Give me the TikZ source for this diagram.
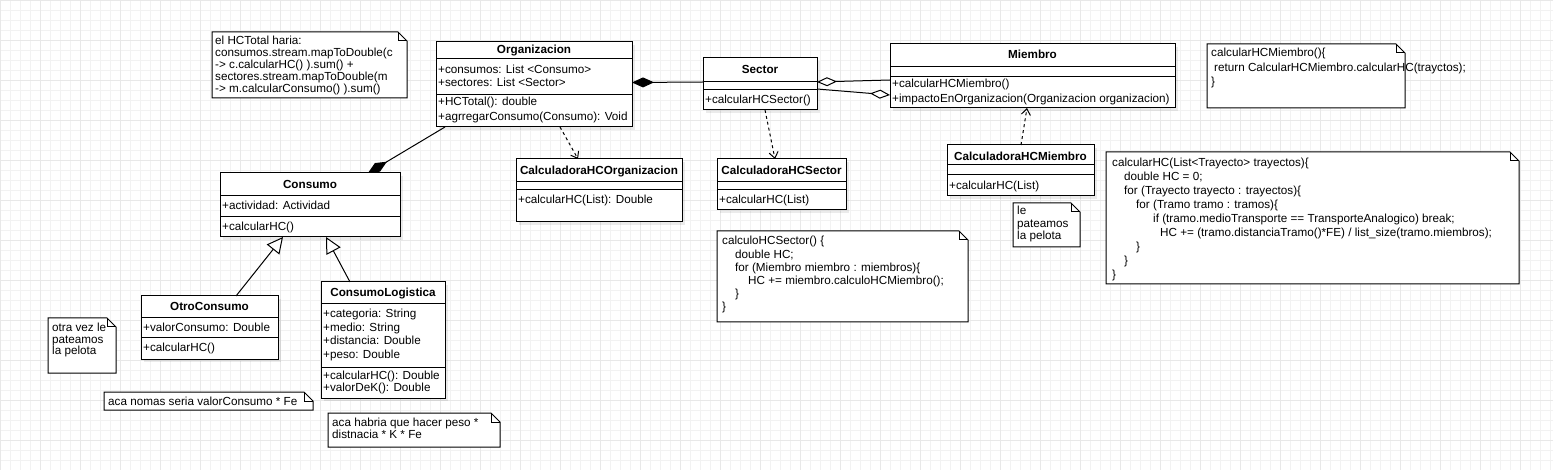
\documentclass[tikz,border=0pt]{standalone}
\usepackage{fontspec}
\setmainfont{Liberation Sans}
\usetikzlibrary{arrows.meta,shadows}

\newcommand{\umltext}{\fontsize{11.7}{13}\selectfont}

% note with folded corner: [fold] x1 y1 x2 y2
\newcommand{\umlnote}[5][9]{%
  \filldraw[notebox] (#2,#3) -- (#4-#1,#3) -- (#4,#3+#1) -- (#4,#5) -- (#2,#5) -- cycle;
  \draw[notebox, fill=none] (#4-#1,#3) -- (#4-#1,#3+#1) -- (#4,#3+#1);
}

\tikzset{
  gridminor/.style={draw=black!5, line width=0.6pt, step=10pt},
  gridmajor/.style={draw=black!9, line width=0.6pt, step=40pt},
  classbox/.style={draw=black, fill=white, line width=1pt, anchor=north west,
    inner sep=0pt, outer sep=0pt,
    drop shadow={shadow xshift=3pt, shadow yshift=-3pt, fill=black, opacity=0.08}},
  classname/.style={font=\umltext\bfseries, anchor=base, inner sep=0pt},
  member/.style={font=\umltext, anchor=base west, inner sep=0pt},
  notetext/.style={member},
  notebox/.style={draw=black, fill=white, line width=1pt},
  sepline/.style={line width=1pt},
  composite/.style={line width=1pt, {Diamond[length=22pt,width=10pt]}-},
  aggrstart/.style={line width=1pt, {Diamond[fill=white,length=20pt,width=9pt]}-},
  aggrend/.style={line width=1pt, -{Diamond[fill=white,length=20pt,width=9pt]}},
  depend/.style={line width=1pt, dash pattern=on 3pt off 3pt,
    -{Straight Barb[length=6pt,width=9pt]}},
  inherit/.style={line width=1pt, -{Triangle[fill=white,length=16pt,width=16pt]}},
}

\begin{document}
\begin{tikzpicture}[x=1pt, y=-1pt]
  % fondo y grilla
  \useasboundingbox (0,0) rectangle (1553,470);
  \fill[white] (0,0) rectangle (1553,470);
  \draw[gridminor] (0,0) grid (1553,470);
  \draw[gridmajor] (0,0) grid (1553,470);

  % Organizacion
  \node[classbox, minimum width=196pt, minimum height=85pt] (org) at (436,42) {};
  \node[classname] (orgT) at (534,54) {Organizacion};
  \draw[sepline] (436,59) -- (632,59);
  \draw[sepline] (436,95) -- (632,95);
  \node[member] (orgA1) at (438,73.5) {+consumos: List <Consumo>};
  \node[member] (orgA2) at (438,86.5) {+sectores: List <Sector>};
  \node[member] (orgM1) at (438,106) {+HCTotal(): double};
  \node[member] (orgM2) at (438,120.5) {+agrregarConsumo(Consumo): Void};

  % Sector
  \node[classbox, minimum width=114pt, minimum height=52pt] (sec) at (703,58) {};
  \node[classname] (secT) at (760,74) {Sector};
  \draw[sepline] (703,82) -- (817,82);
  \draw[sepline] (703,90) -- (817,90);
  \node[member] (secM1) at (705,104) {+calcularHCSector()};

  % Miembro
  \node[classbox, minimum width=285pt, minimum height=64pt] (mie) at (890,44) {};
  \node[classname] (mieT) at (1032.5,59) {Miembro};
  \draw[sepline] (890,67) -- (1175,67);
  \draw[sepline] (890,77) -- (1175,77);
  \node[member] (mieM1) at (892,88) {+calcularHCMiembro()};
  \node[member] (mieM2) at (892,103) {+impactoEnOrganizacion(Organizacion organizacion)};

  % Consumo
  \node[classbox, minimum width=180pt, minimum height=64pt] (con) at (220,173) {};
  \node[classname] (conT) at (310,189) {Consumo};
  \draw[sepline] (220,196) -- (400,196);
  \draw[sepline] (220,217) -- (400,217);
  \node[member] (conA1) at (222,210) {+actividad: Actividad};
  \node[member] (conM1) at (222,231) {+calcularHC()};

  % Calculadoras
  \node[classbox, minimum width=166pt, minimum height=63pt] (cho) at (516,159) {};
  \node[classname] (choT) at (599,175) {CalculadoraHCOrganizacion};
  \draw[sepline] (516,182) -- (682,182);
  \draw[sepline] (516,190) -- (682,190);
  \node[member] (choM1) at (518,204) {+calcularHC(List): Double};

  \node[classbox, minimum width=129pt, minimum height=51pt] (chs) at (717,159) {};
  \node[classname] (chsT) at (781.5,175) {CalculadoraHCSector};
  \draw[sepline] (717,182) -- (846,182);
  \draw[sepline] (717,190) -- (846,190);
  \node[member] (chsM1) at (719,204) {+calcularHC(List)};

  \node[classbox, minimum width=147pt, minimum height=51pt] (chm) at (947,145) {};
  \node[classname] (chmT) at (1020.5,161) {CalculadoraHCMiembro};
  \draw[sepline] (947,165) -- (1094,165);
  \draw[sepline] (947,175) -- (1094,175);
  \node[member] (chmM1) at (949,190) {+calcularHC(List)};

  % OtroConsumo
  \node[classbox, minimum width=137pt, minimum height=63pt] (otr) at (141,296) {};
  \node[classname] (otrT) at (209.5,311) {OtroConsumo};
  \draw[sepline] (141,318) -- (278,318);
  \draw[sepline] (141,338) -- (278,338);
  \node[member] (otrA1) at (143,332) {+valorConsumo: Double};
  \node[member] (otrM1) at (143,352) {+calcularHC()};

  % ConsumoLogistica
  \node[classbox, minimum width=124pt, minimum height=116pt] (log) at (321,282) {};
  \node[classname] (logT) at (383,297) {ConsumoLogistica};
  \draw[sepline] (321,304) -- (445,304);
  \draw[sepline] (321,367) -- (445,367);
  \node[member] (logA1) at (323,317.5) {+categoria: String};
  \node[member] (logA2) at (323,331) {+medio: String};
  \node[member] (logA3) at (323,344.5) {+distancia: Double};
  \node[member] (logA4) at (323,358) {+peso: Double};
  \node[member] (logM1) at (323,379) {+calcularHC(): Double};
  \node[member] (logM2) at (323,391) {+valorDeK(): Double};

  % Notas
  \umlnote{212}{32}{407}{98}
  \foreach \txt [count=\i from 0] in {{el HCTotal haria:}, {consumos.stream.mapToDouble(c},
      {-> c.calcularHC() ).sum() +}, {sectores.stream.mapToDouble(m}, {-> m.calcularConsumo() ).sum()}}
    \node[notetext] (hcNote\i) at (215,45+12*\i) {\txt};

  \umlnote{1207}{44}{1405}{108}
  \foreach \dx/\txt [count=\i from 0] in {0/{calcularHCMiembro()\{},
      3/{return CalcularHCMiembro.calcularHC(trayctos);}, 0/{\}}}
    \node[notetext] (mieNote\i) at (1211+\dx,57+14.5*\i) {\txt};

  \umlnote{1106}{152}{1519}{284}
  \foreach \dx/\txt [count=\i from 0] in {0/{calcularHC(List<Trayecto> trayectos)\{},
      12/{double HC = 0;}, 12/{for (Trayecto trayecto : trayectos)\{},
      24/{for (Tramo tramo : tramos)\{},
      41/{if (tramo.medioTransporte == TransporteAnalogico) break;},
      48/{HC += (tramo.distanciaTramo()*FE) / list\_size(tramo.miembros);},
      24/{\}}, 12/{\}}, 0/{\}}}
    \node[notetext] (hcCode\i) at (1112+\dx,167+14*\i) {\txt};

  \umlnote{717}{231}{968}{322}
  \foreach \dx/\txt [count=\i from 0] in {0/{calculoHCSector() \{}, 13/{double HC;},
      13/{for (Miembro miembro : miembros)\{}, 26/{HC += miembro.calculoHCMiembro();},
      13/{\}}, 0/{\}}}
    \node[notetext] (secCode\i) at (722+\dx,245+13.2*\i) {\txt};

  \umlnote{1013}{203}{1080}{247}
  \foreach \txt [count=\i from 0] in {le, pateamos, la pelota}
    \node[notetext] (pelotaA\i) at (1017,215+12.5*\i) {\txt};

  \umlnote{48}{318}{116}{373}
  \foreach \txt [count=\i from 0] in {otra vez le, pateamos, la pelota}
    \node[notetext] (pelotaB\i) at (52,332+11*\i) {\txt};

  \umlnote{104}{392}{313}{410}
  \node[notetext] (otrNote) at (108,405) {aca nomas seria valorConsumo * Fe};

  \umlnote{328}{413}{500}{447}
  \node[notetext] (logNote0) at (332,426) {aca habria que hacer peso *};
  \node[notetext] (logNote1) at (332,438) {distnacia * K * Fe};

  % Relaciones
  \draw[composite] ([yshift=2pt]org.east) -- ([yshift=2pt]sec.west);
  \draw[aggrstart] ([yshift=2pt]sec.east) -- ([yshift=-4pt]mie.west);
  \draw[aggrend] ([yshift=-5pt]sec.east) -- ([yshift=-19pt]mie.west);
  \draw[composite] ([xshift=148pt]con.north west) -- ([xshift=9pt]org.south west);
  \draw[depend] ([xshift=124pt]org.south west) -- ([xshift=62pt]cho.north west);
  \draw[depend] ([xshift=62pt]sec.south west) -- ([xshift=58pt]chs.north west);
  \draw[depend] ([xshift=74pt]chm.north west) -- ([xshift=137pt]mie.south west);
  \draw[inherit] ([xshift=95pt]otr.north west) -- ([xshift=63pt]con.south west);
  \draw[inherit] ([xshift=29pt]log.north west) -- ([xshift=106pt]con.south west);
\end{tikzpicture}
\end{document}
